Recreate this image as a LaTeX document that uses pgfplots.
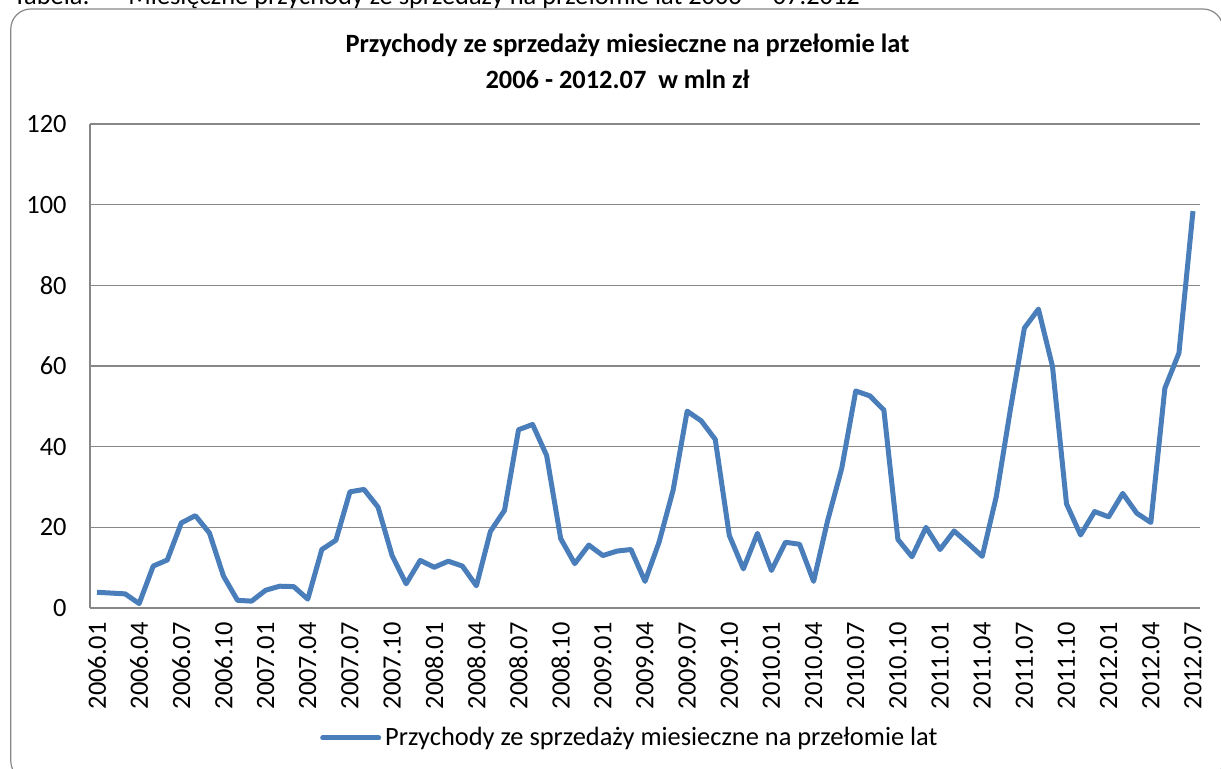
\documentclass[border=0pt]{standalone}
\usepackage{fontspec}
\setmainfont{Carlito}
\usepackage{pgfplots}
\pgfplotsset{compat=1.18}
\definecolor{serieblue}{HTML}{4A7EBB}
\definecolor{gridgray}{HTML}{878787}
\newcommand\fs{\fontsize{13.2}{16}\selectfont}

\begin{document}
\begin{tikzpicture}
\useasboundingbox (0,0) rectangle (610.5pt,384.5pt);
% caption of the table, cut off by the top edge
\node[anchor=base west, inner sep=0pt, font=\fs] at (6.5pt,382pt) {Tabela:};
\node[anchor=base west, inner sep=0pt, font=\fs] at (64pt,382pt) {Miesięczne przychody ze sprzedaży na przełomie lat 2006 – \ 07.2012};
% chart area frame
\draw[gridgray, line width=0.6pt, rounded corners=10pt] (5.4pt,380pt) rectangle (611.5pt,-6pt);
% title
\node[anchor=base, inner sep=0pt, font=\fs\bfseries] at (313.75pt,358pt) {Przychody ze sprzedaży miesieczne na przełomie lat};
\node[anchor=base, inner sep=0pt, font=\fs\bfseries] at (308.75pt,340pt) {2006 - 2012.07\ \ w mln zł};
\begin{axis}[
  at={(45pt,80.5pt)}, anchor=south west,
  scale only axis, width=555pt, height=242pt,
  xmin=-0.5, xmax=78.5, ymin=0, ymax=120,
  xtick={0,3,...,78},
  xticklabels={2006.01,2006.04,2006.07,2006.10,2007.01,2007.04,2007.07,2007.10,2008.01,2008.04,2008.07,2008.10,2009.01,2009.04,2009.07,2009.10,2010.01,2010.04,2010.07,2010.10,2011.01,2011.04,2011.07,2011.10,2012.01,2012.04,2012.07},
  ytick={0,20,...,120},
  major tick length=0pt,
  axis lines*=left,
  axis line style={draw=gridgray, line width=0.75pt, -},
  ymajorgrids,
  grid style={draw=gridgray, line width=0.75pt},
  tick label style={font=\fs},
  /pgf/number format/assume math mode=true,
  xticklabel style={rotate=90, anchor=east, inner sep=0pt},
  xticklabel shift=7pt,
  yticklabel style={inner sep=0pt},
  yticklabel shift=11.5pt,
  legend style={at={(axis description cs:0.207,-0.2686)}, anchor=west, draw=none, fill=none, font=\fs, inner sep=0pt},
  legend image code/.code={\draw[#1, line cap=round] (0pt,0pt) -- (28pt,0pt);},
]
\addplot[serieblue, line width=2.5pt, line join=round] coordinates {
(0,3.9)(1,3.7)(2,3.5)(3,1.1)(4,10.4)(5,11.9)(6,21.1)(7,22.9)(8,18.6)(9,7.9)(10,1.9)(11,1.7)
(12,4.4)(13,5.4)(14,5.3)(15,2.2)(16,14.5)(17,16.8)(18,28.8)(19,29.4)(20,25.0)(21,13.0)(22,6.0)(23,11.8)
(24,10.1)(25,11.6)(26,10.4)(27,5.5)(28,19.0)(29,24.2)(30,44.2)(31,45.5)(32,37.8)(33,17.2)(34,11.0)(35,15.6)
(36,13.0)(37,14.1)(38,14.5)(39,6.6)(40,16.3)(41,29.2)(42,48.8)(43,46.4)(44,41.8)(45,18.0)(46,9.7)(47,18.5)
(48,9.3)(49,16.3)(50,15.8)(51,6.6)(52,21.7)(53,34.6)(54,53.8)(55,52.6)(56,49.1)(57,17.0)(58,12.7)(59,20.0)
(60,14.5)(61,19.1)(62,16.0)(63,12.8)(64,27.6)(65,49.1)(66,69.4)(67,74.1)(68,59.9)(69,25.8)(70,18.1)(71,23.9)
(72,22.6)(73,28.4)(74,23.5)(75,21.2)(76,54.5)(77,63.2)(78,98.4)};
\addlegendentry{Przychody ze sprzedaży miesieczne na przełomie lat}
\end{axis}
\end{tikzpicture}
\end{document}
